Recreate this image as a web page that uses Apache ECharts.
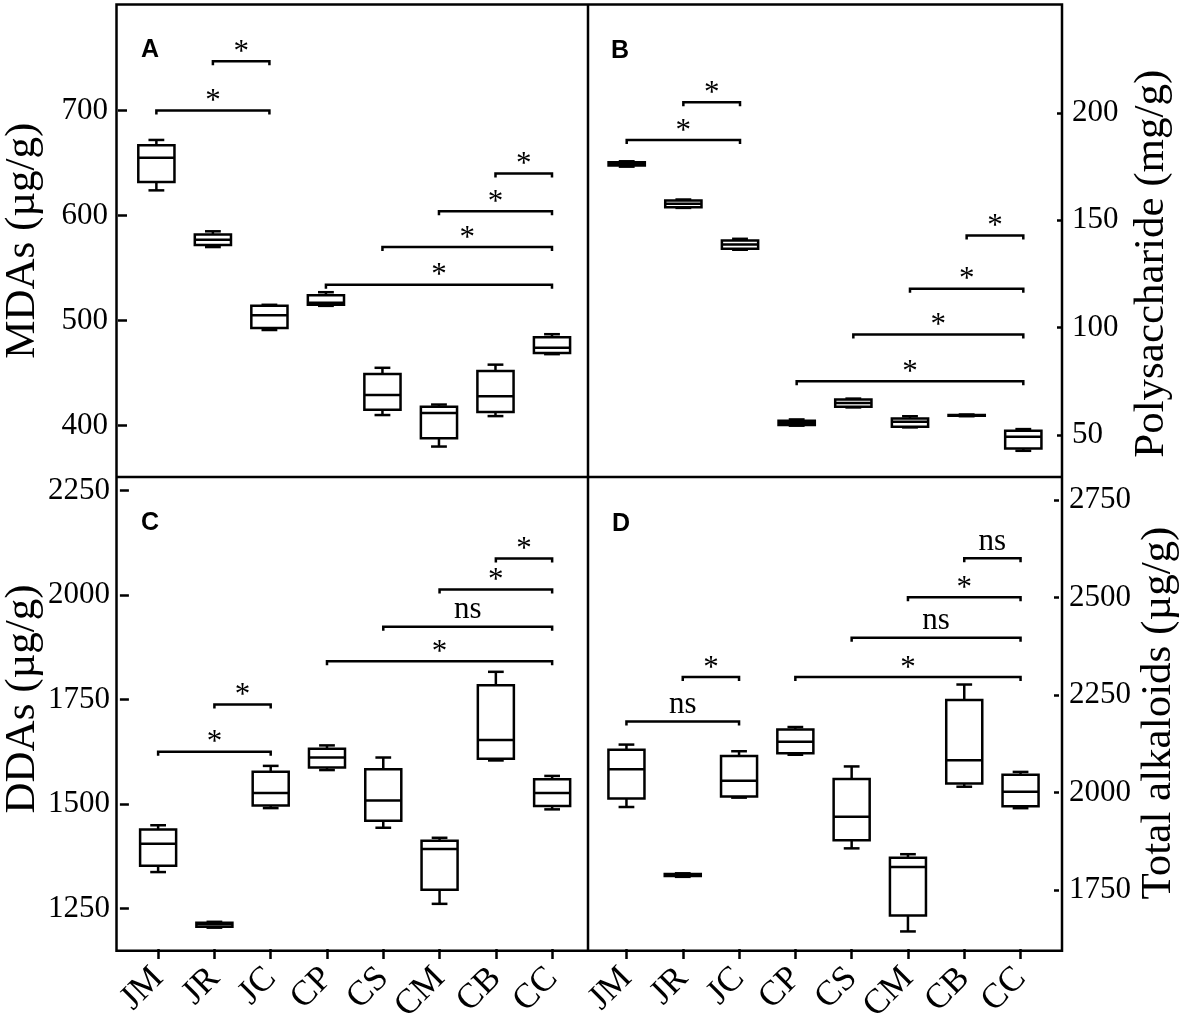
<!DOCTYPE html>
<html>
<head>
<meta charset="utf-8">
<script src="https://cdn.jsdelivr.net/npm/echarts@6.0.0/dist/echarts.min.js"></script>
<style>
  html, body { margin: 0; padding: 0; background: #fff; }
  #chart { width: 1181px; height: 1026px; }
</style>
</head>
<body>
<div id="chart"></div>
<script>
// sample groups on the x axis
const categories = ['JM', 'JR', 'JC', 'CP', 'CS', 'CM', 'CB', 'CC'];

// box values per group: [min, Q1, median, Q3, max]
const mdasBoxes = [
  [624, 632, 655, 667, 672],
  [570, 572, 577, 582, 585],
  [491, 493, 505, 514, 515],
  [514, 515, 517, 524, 527],
  [410, 415, 429, 449, 455],
  [380, 388, 412, 418, 420],
  [409, 413, 428, 452, 458],
  [468, 469, 474, 484, 487]
];
const polyBoxes = [
  [175.0, 175.5, 176.3, 177.0, 177.5],
  [155.8, 156.1, 157.7, 159.2, 159.7],
  [136.3, 136.8, 138.8, 140.6, 141.4],
  [54.4, 54.7, 55.7, 56.7, 57.3],
  [62.9, 63.2, 65.0, 66.6, 67.0],
  [53.6, 53.9, 56.2, 57.7, 58.8],
  [58.8, 59.0, 59.3, 59.4, 59.6],
  [42.7, 43.8, 49.2, 52.0, 52.8]
];
const ddasBoxes = [
  [1337, 1352, 1405, 1439, 1449],
  [1204, 1206, 1212, 1216, 1218],
  [1490, 1496, 1526, 1577, 1591],
  [1581, 1587, 1611, 1632, 1640],
  [1443, 1460, 1508, 1583, 1611],
  [1261, 1295, 1392, 1412, 1419],
  [1604, 1608, 1653, 1784, 1816],
  [1487, 1495, 1526, 1559, 1567]
];
const alkBoxes = [
  [1963, 1985, 2060, 2110, 2123],
  [1784, 1786, 1789, 1791, 1793],
  [1987, 1990, 2030, 2094, 2106],
  [2097, 2101, 2130, 2162, 2168],
  [1857, 1878, 1938, 2035, 2067],
  [1644, 1685, 1809, 1833, 1842],
  [2015, 2023, 2083, 2237, 2277],
  [1960, 1965, 2002, 2046, 2053]
];

// significance brackets: [from group, to group, height, label]
const mdasSig = [[1, 2, 747, '*'], [0, 2, 700, '*'], [6, 7, 640, '*'], [5, 7, 604, '*'], [4, 7, 570, '*'], [3, 7, 534, '*']];
const polySig = [[1, 2, 205, '*'], [0, 2, 187.4, '*'], [6, 7, 143, '*'], [5, 7, 118.2, '*'], [4, 7, 96.8, '*'], [3, 7, 75.1, '*']];
const ddasSig = [[1, 2, 1738, '*'], [0, 2, 1625, '*'], [6, 7, 2087, '*'], [5, 7, 2013, '*'], [4, 7, 1924, 'ns'], [3, 7, 1841, '*']];
const alkSig = [[1, 2, 2296, '*'], [0, 2, 2182, 'ns'], [6, 7, 2601, 'ns'], [5, 7, 2501, '*'], [4, 7, 2397, 'ns'], [3, 7, 2296, '*']];

// tick labels on the axes
const groupTicks = [0, 1, 2, 3, 4, 5, 6, 7];
const mdasTicks = [400, 500, 600, 700];
const polyTicks = [50, 100, 150, 200];
const ddasTicks = [1250, 1500, 1750, 2000, 2250];
const alkTicks = [1750, 2000, 2250, 2500, 2750];

const SERIF = '"Liberation Serif", "Times New Roman", serif';
const LW = 2.5;

// box + whiskers drawn through the axis scales
function boxItem(params, api) {
  const i = api.value(0);
  const lo = api.coord([i, api.value(1)]);
  const q1 = api.coord([i, api.value(2)]);
  const md = api.coord([i, api.value(3)]);
  const q3 = api.coord([i, api.value(4)]);
  const hi = api.coord([i, api.value(5)]);
  const band = api.size([1, 0])[0];
  const bw = band * 0.64, cw = band * 0.28;
  const cx = lo[0];
  const st = { stroke: '#000', lineWidth: LW };
  return {
    type: 'group',
    children: [
      { type: 'line', shape: { x1: cx, y1: q3[1], x2: cx, y2: hi[1] }, style: st },
      { type: 'line', shape: { x1: cx, y1: q1[1], x2: cx, y2: lo[1] }, style: st },
      { type: 'line', shape: { x1: cx - cw / 2, y1: hi[1], x2: cx + cw / 2, y2: hi[1] }, style: st },
      { type: 'line', shape: { x1: cx - cw / 2, y1: lo[1], x2: cx + cw / 2, y2: lo[1] }, style: st },
      { type: 'rect', shape: { x: cx - bw / 2, y: q3[1], width: bw, height: q1[1] - q3[1] },
        style: { stroke: '#000', fill: '#fff', lineWidth: LW } },
      { type: 'line', shape: { x1: cx - bw / 2, y1: md[1], x2: cx + bw / 2, y2: md[1] }, style: st }
    ]
  };
}

// bracket with a label on top
function sigItem(list) {
  return function (params, api) {
    const a = api.coord([api.value(0), api.value(2)]);
    const b = api.coord([api.value(1), api.value(2)]);
    const t = list[params.dataIndex][3];
    return {
      type: 'group',
      children: [
        { type: 'polyline',
          shape: { points: [[a[0], a[1] + 4], [a[0], a[1]], [b[0], b[1]], [b[0], b[1] + 4]] },
          style: { stroke: '#000', lineWidth: LW, fill: null } },
        { type: 'text',
          style: { text: t, x: (a[0] + b[0]) / 2, y: a[1] + (t === '*' ? 7 : -1),
                   align: 'center', verticalAlign: 'bottom',
                   font: '31px ' + SERIF, fill: '#000' } }
      ]
    };
  };
}

function yAxisFor(grid, pos, min, max, ticks, name, gap, pad, tickLen) {
  return {
    type: 'value', gridIndex: grid, position: pos,
    min: min, max: max,
    name: name, nameLocation: 'middle', nameGap: gap, nameRotate: 90,
    nameTextStyle: { fontSize: 43, fontFamily: SERIF, color: '#000', padding: pad },
    axisLine: { show: false, onZero: false },
    axisTick: { show: true, inside: true, length: tickLen, customValues: ticks, lineStyle: { color: '#000', width: LW } },
    axisLabel: { customValues: ticks, formatter: v => String(v), fontSize: 31, fontFamily: SERIF, color: '#000', margin: 10 },
    splitLine: { show: false }
  };
}

// groups sit on a value scale so the frame can be the grid edge
function xAxisFor(grid, min, max, showLabels) {
  return {
    type: 'value', gridIndex: grid, min: min, max: max, position: 'bottom',
    axisLine: { show: false, onZero: false },
    axisTick: { show: showLabels, customValues: groupTicks, length: 10, lineStyle: { color: '#000', width: LW } },
    axisLabel: { show: showLabels, customValues: groupTicks, formatter: v => categories[v],
                 rotate: 45, fontSize: 35, fontFamily: SERIF, color: '#000', margin: 24 },
    splitLine: { show: false }
  };
}

function boxData(arr) {
  return arr.map((v, i) => [i].concat(v));
}

const panels = [
  { boxes: mdasBoxes, sig: mdasSig },
  { boxes: polyBoxes, sig: polySig },
  { boxes: ddasBoxes, sig: ddasSig },
  { boxes: alkBoxes, sig: alkSig }
];

const series = [];
panels.forEach((p, k) => {
  series.push({ type: 'custom', xAxisIndex: k, yAxisIndex: k, renderItem: boxItem, data: boxData(p.boxes), silent: true });
  series.push({ type: 'custom', xAxisIndex: k, yAxisIndex: k, renderItem: sigItem(p.sig),
                data: p.sig.map(s => [s[0], s[1], s[2]]), silent: true });
});

const letter = (t, x, y) => ({
  type: 'text', left: x, top: y,
  style: { text: t, font: 'bold 25px "Liberation Sans", Arial, sans-serif', fill: '#000' }
});

const option = {
  backgroundColor: '#fff',
  animation: false,
  grid: [
    { left: 116.5, top: 4.5, width: 471.5, height: 472.5 },
    { left: 588, top: 4.5, width: 474, height: 472.5 },
    { left: 116.5, top: 477, width: 471.5, height: 473.7 },
    { left: 588, top: 477, width: 474, height: 473.7 }
  ],
  xAxis: [
    xAxisFor(0, -0.679, 7.637, false),
    xAxisFor(1, -0.683, 7.683, false),
    xAxisFor(2, -0.679, 7.637, true),
    xAxisFor(3, -0.683, 7.683, true)
  ],
  yAxis: [
    yAxisFor(0, 'left', 351, 801, mdasTicks, 'MDAs (µg/g)', 74, [0, 0, 0, 0], 9),
    yAxisFor(1, 'right', 30.5, 250.5, polyTicks, 'Polysaccharide (mg/g)', 68, [0, 46, 0, 0], 5),
    yAxisFor(2, 'left', 1153, 2282, ddasTicks, 'DDAs (µg/g)', 74, [0, 0, 0, 28], 9),
    yAxisFor(3, 'right', 1599, 2809, alkTicks, 'Total alkaloids (µg/g)', 78, [0, 0, 0, 0], 5)
  ],
  series: series,
  graphic: [
    { type: 'rect', shape: { x: 116.5, y: 4.5, width: 945.5, height: 946.2 },
      style: { stroke: '#000', fill: null, lineWidth: LW }, z: 100 },
    { type: 'line', shape: { x1: 588, y1: 4.5, x2: 588, y2: 950.7 },
      style: { stroke: '#000', lineWidth: LW }, z: 100 },
    { type: 'line', shape: { x1: 116.5, y1: 477, x2: 1062, y2: 477 },
      style: { stroke: '#000', lineWidth: LW }, z: 100 },
    letter('A', 141, 38),
    letter('B', 611, 39),
    letter('C', 141, 511),
    letter('D', 612, 512)
  ]
};

const chart = echarts.init(document.getElementById('chart'), null, { renderer: 'canvas' });
chart.setOption(option);
</script>
</body>
</html>
